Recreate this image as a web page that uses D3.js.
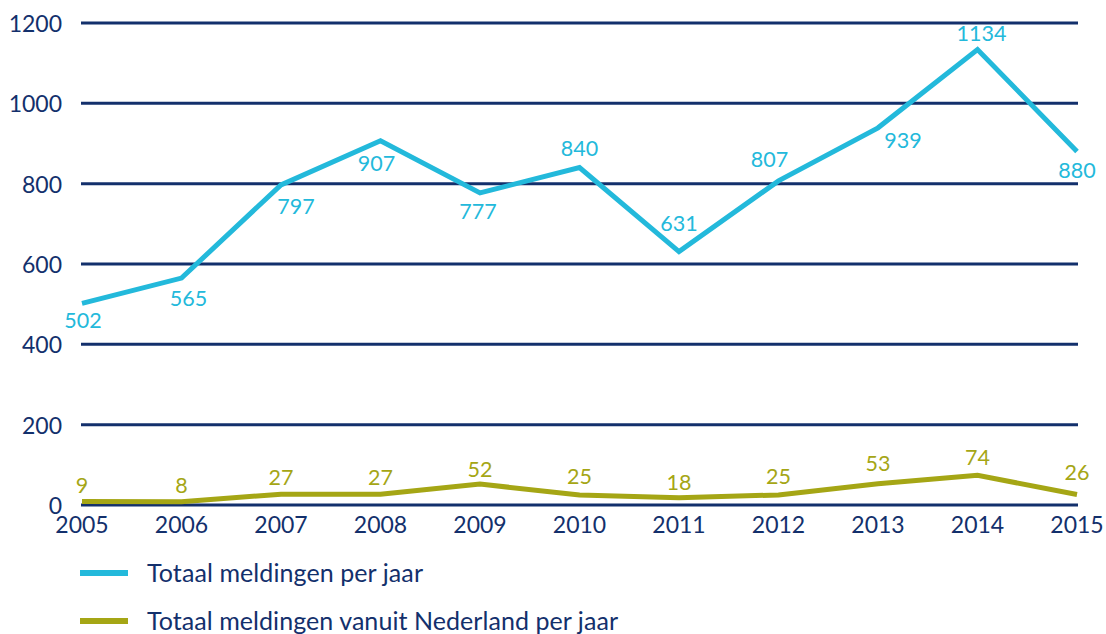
<!DOCTYPE html>
<html><head><meta charset="utf-8">
<script src="https://cdn.jsdelivr.net/npm/d3@7"></script>
<style>body{margin:0;background:#fff}svg{display:block}text{font-family:Lato,"Open Sans",sans-serif}</style>
</head><body><svg id="c" width="1106" height="634"></svg>
<script>
const years = [2005,2006,2007,2008,2009,2010,2011,2012,2013,2014,2015];
const totaal = [502,565,797,907,777,840,631,807,939,1134,880];
const nederland = [9,8,27,27,52,25,18,25,53,74,26];
const yTicks = [0,200,400,600,800,1000,1200];
const seriesNames = ["Totaal meldingen per jaar","Totaal meldingen vanuit Nederland per jaar"];

// label placement (style): dy offset of text center from point, dx nudge
const totaalLabelDy = [17,20,22,23,19,-19,-28,-21,13,-16,19];
const totaalLabelDx = [1,7,15,-4,-2,0,0,-9,25,4,0];
const nedLabelDy = [-16,-16,-17,-17,-15,-18,-15,-18,-20,-18,-22];

const navy = "#13306c", cyan = "#23b9db", olive = "#a5a615";
const svg = d3.select("#c");
const x = d3.scaleLinear().domain([2005,2015]).range([82,1077]);
const y = d3.scaleLinear().domain([0,1200]).range([505,23]);

// grid
svg.append("g").selectAll("line").data(yTicks).join("line")
  .attr("x1",81).attr("x2",1078).attr("y1",d=>y(d)).attr("y2",d=>y(d))
  .attr("stroke",navy).attr("stroke-width",3);
// y tick labels
svg.append("g").selectAll("text").data(yTicks).join("text")
  .attr("x",62).attr("y",d=>y(d)+1).attr("dy","0.35em").attr("text-anchor","end")
  .attr("fill",navy).attr("font-size",23).text(d=>d);
// x tick labels
svg.append("g").selectAll("text").data(years).join("text")
  .attr("x",d=>x(d)).attr("y",533).attr("text-anchor","middle")
  .attr("fill",navy).attr("font-size",23).text(d=>d);

const line = d3.line().x((d,i)=>x(years[i])).y(d=>y(d));
svg.append("path").datum(totaal).attr("d",line).attr("fill","none")
  .attr("stroke",cyan).attr("stroke-width",5).attr("stroke-linejoin","miter");
svg.append("path").datum(nederland).attr("d",line).attr("fill","none")
  .attr("stroke",olive).attr("stroke-width",5);

svg.append("g").selectAll("text").data(totaal).join("text")
  .attr("x",(d,i)=>x(years[i])+totaalLabelDx[i]).attr("y",(d,i)=>y(d)+totaalLabelDy[i])
  .attr("dy","0.35em").attr("text-anchor","middle").attr("fill",cyan).attr("font-size",21.5).text(d=>d);
svg.append("g").selectAll("text").data(nederland).join("text")
  .attr("x",(d,i)=>x(years[i])).attr("y",(d,i)=>y(d)+nedLabelDy[i])
  .attr("dy","0.35em").attr("text-anchor","middle").attr("fill",olive).attr("font-size",21.5).text(d=>d);

// legend
const lg = svg.append("g").selectAll("g").data(seriesNames).join("g")
  .attr("transform",(d,i)=>`translate(80,${573+i*48})`);
lg.append("line").attr("x1",0).attr("x2",48).attr("stroke",(d,i)=>[cyan,olive][i]).attr("stroke-width",6);
lg.append("text").attr("x",67).attr("dy","0.35em").attr("fill",navy).attr("font-size",25)
  .attr("textLength",(d,i)=>[276,471][i]).attr("lengthAdjust","spacing").text(d=>d);
</script></body></html>
